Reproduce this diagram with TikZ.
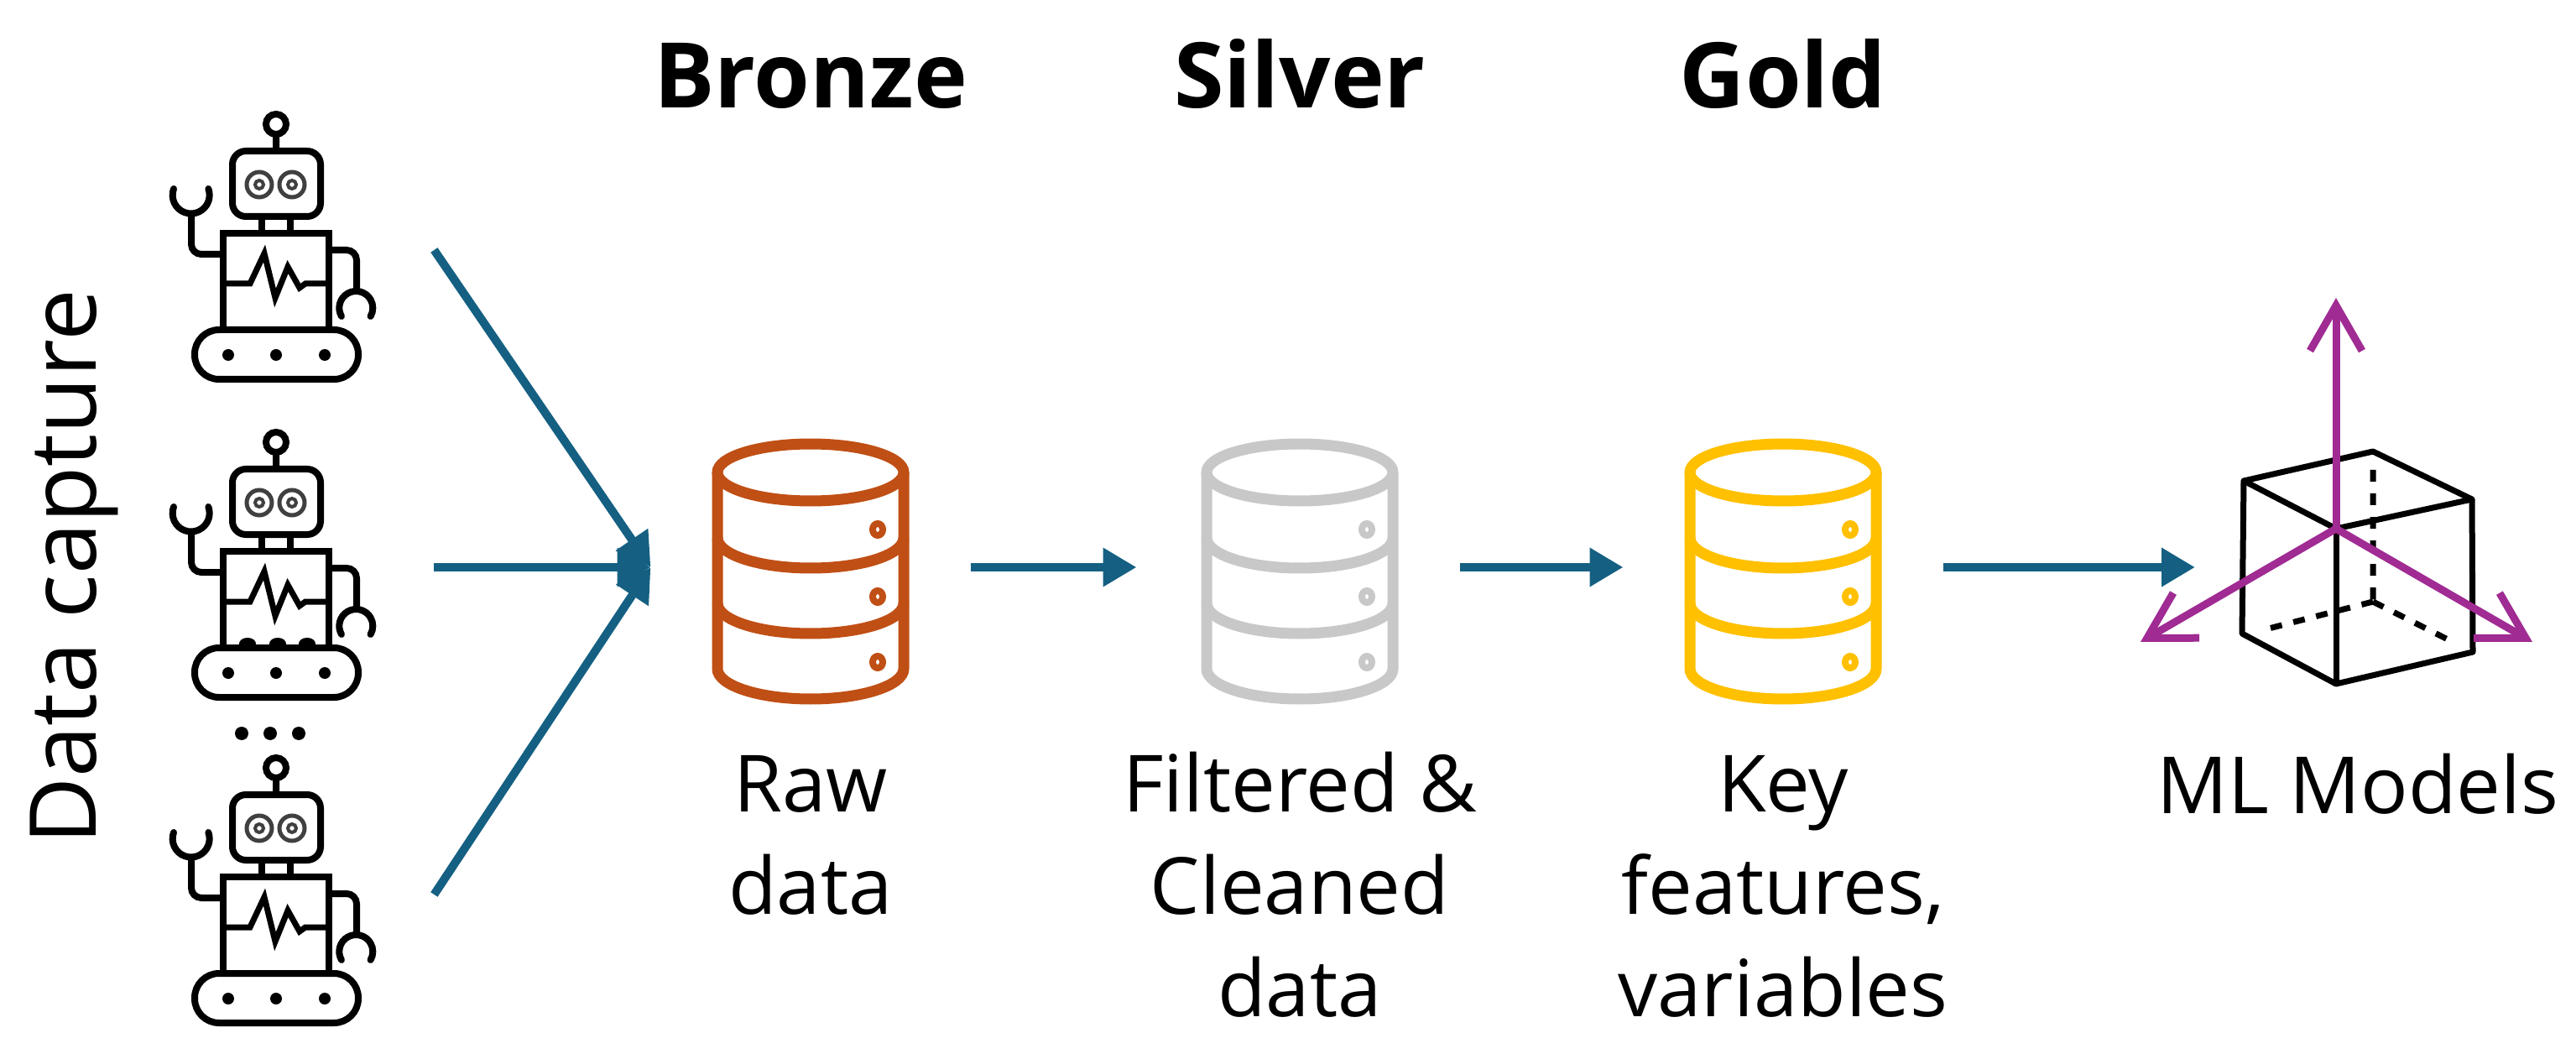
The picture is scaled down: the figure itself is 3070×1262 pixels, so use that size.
\documentclass[tikz,border=0pt]{standalone}
\usepackage{fontspec}
\setmainfont{Open Sans}
\usetikzlibrary{arrows.meta,positioning}
\definecolor{flowblue}{HTML}{156082}
\definecolor{bronzecol}{HTML}{C04F15}
\definecolor{silvercol}{HTML}{C8C8C8}
\definecolor{goldcol}{HTML}{FFC000}
\definecolor{axiscol}{HTML}{A02B93}

\begin{document}
\begin{tikzpicture}[x=0.5pt,y=-0.5pt,node distance=8mm]
\tikzstyle{flow}=[draw=flowblue,line width=5pt,-{Triangle[length=20pt,width=22pt]}]
\tikzstyle{axisline}=[draw=axiscol,line width=4.5pt,-{Straight Barb[length=27pt,width=31pt]}]
\tikzstyle{dbbox}=[inner sep=0pt,minimum width=117.5pt,minimum height=155pt,outer xsep=36.5pt]
\tikzstyle{robotbox}=[inner sep=0pt,minimum width=188pt,minimum height=158pt]
\tikzstyle{cubebox}=[inner sep=0pt,minimum width=137.5pt,minimum height=138.5pt,outer xsep=0pt]
\tikzstyle{headtxt}=[inner sep=0pt,text depth=0pt,font=\fontsize{54}{60}\selectfont\bfseries]
\tikzstyle{captxt}=[inner sep=0pt,align=center,font=\fontsize{47}{61}\selectfont]
\tikzset{
  robot/.pic={
    \draw[line width=4pt,fill=white,rounded corners=8pt] (-52,-120) rectangle (53,-42);
    \draw[line width=4pt] (0,-152) circle[radius=12] (0,-140) -- (0,-120);
    \draw[line width=2.5pt,black!75] (-20,-80) circle[radius=15] (19,-80) circle[radius=15];
    \draw[line width=2pt,black!75] (-20,-80) circle[radius=5] (19,-80) circle[radius=5];
    \draw[line width=4pt] (-17,-42) -- (-17,-22) (17,-42) -- (17,-22);
    \draw[line width=4pt] (-63,-22) rectangle (63,93);
    \draw[line width=4pt,rounded corners=6pt] (-64,3) -- (-101,3) -- (-101,-47);
    \draw[line width=4pt,line cap=round] (-122,-75) arc[start angle=200,end angle=-20,radius=22];
    \draw[line width=4pt,rounded corners=6pt] (63,-2) -- (96,-2) -- (96,47);
    \draw[line width=4pt,line cap=round] (78,77) arc[start angle=150,end angle=390,radius=20];
    \draw[line width=3.5pt,line join=miter] (-63,38) -- (-31,38) -- (-14,2) -- (-1,55) -- (14,18) -- (28,43) -- (35,38) -- (63,38);
    \draw[line width=4pt,rounded corners=14.5pt] (-97,93) rectangle (98,152);
    \foreach \dotx in {-57,0,58} \fill (\dotx,123) circle[radius=7];
  },
  dbicon/.pic={
    \begin{scope}[draw=#1,line width=6.5pt]
    \draw (0,-117) ellipse[x radius=111,y radius=34];
    \draw (-111,-117) -- (-111,117) arc[start angle=180,end angle=0,x radius=111,y radius=36] -- (111,-117);
    \draw (-111,-39) arc[start angle=180,end angle=0,x radius=111,y radius=36];
    \draw (-111,39) arc[start angle=180,end angle=0,x radius=111,y radius=36];
    \foreach \doty in {-49,31,109} \draw[line width=4pt] (80,\doty) ellipse[x radius=6,y radius=7];
    \end{scope}
  }
}
\useasboundingbox (0,0) rectangle (3070,1262);

\node[robotbox] (robotA) at (329,298) {};
\node[robotbox] (robotB) at (329,676) {};
\node[robotbox] (robotC) at (329,1066) {};
\pic at (329,300) {robot};
\pic at (329,679) {robot};
\pic at (329,1067) {robot};
\foreach \bumpx in {295,331,366} \fill (\bumpx,767) ellipse[x radius=10,y radius=7];
\foreach \dotx in {288,322,356} \fill (\dotx,874) circle[radius=8];

\node[dbbox] (bronze) at (966,676) {};
\node[dbbox] (silver) at (1549,676) {};
\node[dbbox] (gold) at (2125,676) {};
\pic at ([yshift=-2pt]bronze) {dbicon=bronzecol};
\pic at ([yshift=-2pt]silver) {dbicon=silvercol};
\pic at ([yshift=-2pt]gold) {dbicon=goldcol};

\node[cubebox] (cube) at (2810,677) {};
\coordinate (axo) at (2784,630);
\coordinate (axup) at (2784,355);
\coordinate (axl) at (2551,765);
\coordinate (axr) at (3018,765);
\coordinate (cubein) at (2616,676);
\draw[line width=3.5pt,line join=round] (2674,573) -- (2828,538) -- (2946,595) -- (2784,630) -- cycle;
\draw[line width=3.5pt,line join=round] (2674,573) -- (2672,755) -- (2784,815) -- (2947,777) -- (2946,595);
\draw[line width=3.5pt] (2784,630) -- (2784,815);
\draw[line width=3.5pt,dash pattern=on 7pt off 7pt] (2828,560) -- (2828,717) (2828,717) -- (2700,750) (2828,717) -- (2923,765);

\draw[axisline] (axo) -- (axup);
\draw[axisline] (axo) -- (axl);
\draw[axisline] (axo) -- (axr);

\draw[flow] (robotA.east) -- (bronze.west);
\draw[flow] (robotB.east) -- (bronze.west);
\draw[flow] (robotC.east) -- (bronze.west);
\draw[flow,shorten >=2pt] (bronze.east) -- (silver.west);
\draw[flow] (silver.east) -- (gold.west);
\draw[flow] (gold.east) -- (cubein);

\node[headtxt,above=196pt of bronze] (bronzehead) {Bronze};
\node[headtxt,above=196pt of silver] (silverhead) {Silver};
\node[headtxt,above=196pt of gold] (goldhead) {Gold};
\node[captxt,below=25pt of bronze] (rawtxt) {\strut Raw\\data};
\node[captxt,below=25pt of silver] (cleantxt) {\strut Filtered \&\\Cleaned\\data};
\node[captxt,below=25pt of gold] (keytxt) {\strut Key\\features,\\variables};
\node[captxt,below=34pt of cube] (mltxt) {\strut ML Models};
\node[inner sep=0pt,rotate=90,font=\fontsize{55}{60}\selectfont] (capturetxt) at (88,676) {Data capture};
\end{tikzpicture}
\end{document}
